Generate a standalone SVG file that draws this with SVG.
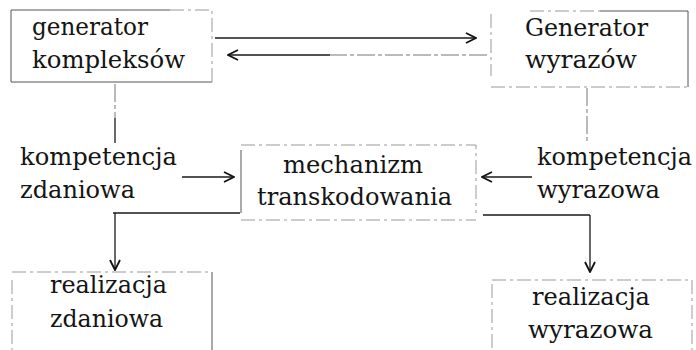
<svg xmlns="http://www.w3.org/2000/svg" width="696" height="350" viewBox="0 0 696 350">
  <style>
    .box { fill: none; stroke: #555; stroke-width: 1; }
    .box .faint { stroke: #999; stroke-dasharray: 14 4 3 4; }
    text { font-family: "DejaVu Serif", "Liberation Serif", serif; font-size: 24px; fill: #141414; stroke: none; }
    .wire { fill: none; stroke: #1a1a1a; stroke-width: 1.3; }
    .wire.light { stroke: #777; stroke-width: 1; stroke-dasharray: 18 3 4 3; }
  </style>
  <defs>
    <marker id="head" viewBox="0 0 12 12" refX="11" refY="6" markerWidth="12" markerHeight="12" markerUnits="userSpaceOnUse" orient="auto">
      <path d="M1,1 L11,6 L1,11" fill="none" stroke="#111" stroke-width="1.8"/>
    </marker>
  </defs>
  <rect width="696" height="350" fill="#ffffff"/>

  <g id="generator-kompleksow" class="box">
    <path d="M11,10 H170 M11,10 V82 H212"/>
    <path class="faint" d="M170,10 H212 V82"/>
    <text x="32" y="35" textLength="116" lengthAdjust="spacingAndGlyphs">generator</text>
    <text x="32" y="68" textLength="153" lengthAdjust="spacingAndGlyphs">kompleksów</text>
  </g>

  <g id="generator-wyrazow" class="box">
    <path d="M688,11 V87"/>
    <path d="M600,11 H688"/>
    <path class="faint" d="M491,14 V76 M491,87 H688 M530,11 H600"/>
    <text x="525" y="36" textLength="123" lengthAdjust="spacingAndGlyphs">Generator</text>
    <text x="525" y="68" textLength="112" lengthAdjust="spacingAndGlyphs">wyrazów</text>
  </g>

  <g id="kompetencja-zdaniowa">
    <text x="20" y="165" textLength="157" lengthAdjust="spacingAndGlyphs">kompetencja</text>
    <text x="20" y="198" textLength="115" lengthAdjust="spacingAndGlyphs">zdaniowa</text>
  </g>

  <g id="mechanizm-transkodowania" class="box">
    <path class="faint" d="M241,145 H476 V213 M241,220 H476"/>
    <path d="M241,150 V213"/>
    <text x="283" y="173" textLength="140" lengthAdjust="spacingAndGlyphs">mechanizm</text>
    <text x="257" y="205" textLength="195" lengthAdjust="spacingAndGlyphs">transkodowania</text>
  </g>

  <g id="kompetencja-wyrazowa">
    <text x="537" y="165" textLength="155" lengthAdjust="spacingAndGlyphs">kompetencja</text>
    <text x="537" y="198" textLength="123" lengthAdjust="spacingAndGlyphs">wyrazowa</text>
  </g>

  <g id="realizacja-zdaniowa" class="box">
    <path class="faint" d="M12,272 H212 M12,280 V350"/>
    <path d="M212,272 V352"/>
    <text x="50" y="293" textLength="117" lengthAdjust="spacingAndGlyphs">realizacja</text>
    <text x="50" y="327" textLength="113" lengthAdjust="spacingAndGlyphs">zdaniowa</text>
  </g>

  <g id="realizacja-wyrazowa" class="box">
    <path class="faint" d="M492,280 H692 V350 M492,284 V350"/>
    <text x="532" y="305" textLength="118" lengthAdjust="spacingAndGlyphs">realizacja</text>
    <text x="528" y="338" textLength="125" lengthAdjust="spacingAndGlyphs">wyrazowa</text>
  </g>

  <g id="connectors">
    <!-- generator kompleksów to Generator wyrazów and back -->
    <path class="wire" d="M215,38 H476" marker-end="url(#head)"/>
    <path class="wire light" d="M487,55 H330"/>
    <path class="wire" d="M330,55 H228" marker-end="url(#head)"/>
    <!-- generators down to the competence labels -->
    <path class="wire light" d="M115,84 V118"/>
    <path class="wire" d="M115,118 V143"/>
    <path class="wire light" d="M587,88 V143"/>
    <!-- competences into the transcoding mechanism -->
    <path class="wire" d="M182,177 H234" marker-end="url(#head)"/>
    <path class="wire" d="M532,177 H482" marker-end="url(#head)"/>
    <!-- mechanism out to the realisations -->
    <path class="wire" d="M113,213 H240 M115,213 V270" marker-end="url(#head)"/>
    <path class="wire" d="M483,215 H590 M590,215 V272" marker-end="url(#head)"/>
  </g>
</svg>
